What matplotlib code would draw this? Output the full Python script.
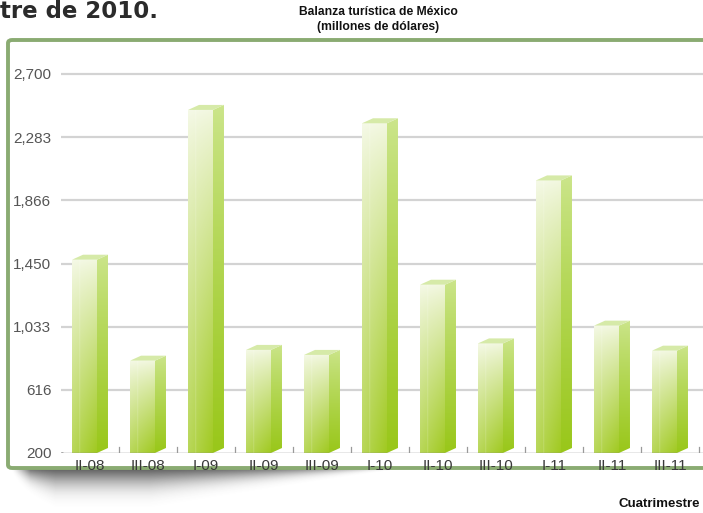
import numpy as np
import matplotlib
matplotlib.use("Agg")
import matplotlib.pyplot as plt
from matplotlib.patches import Polygon, FancyBboxPatch

# Balanza turistica por cuatrimestre (millones de dolares)
periods = ["II-08", "III-08", "I-09", "II-09", "III-09", "I-10",
           "II-10", "III-10", "I-11", "II-11", "III-11"]
balance = [1475, 809, 2463, 880, 847, 2375, 1310, 923, 1998, 1040, 875]
y_ticks = [200, 616, 1033, 1450, 1866, 2283, 2700]
y_labels = ["200", "616", "1,033", "1,450", "1,866", "2,283", "2,700"]

W, H = 703, 513
fig = plt.figure(figsize=(W / 100, H / 100), dpi=100)
fig.patch.set_facecolor("white")
plt.rcParams["font.family"] = ["Liberation Sans", "DejaVu Sans"]


def px(x0, y0, x1, y1):
    # pixel box (top-left origin) -> figure fraction rect
    return [x0 / W, 1 - y1 / H, (x1 - x0) / W, (y1 - y0) / H]


# soft shadow under the frame
sh = fig.add_axes(px(10, 464, 450, 513), zorder=-3)
sh.axis("off")
xs = np.linspace(0, 440, 440)
ys = np.linspace(0, 49, 98)
X, Y = np.meshgrid(xs, ys)
thick = np.where(X < 140, 40.0, 40 * np.clip(1 - (X - 140) / 290, 0, 1) ** 1.1)
thick = np.where(X < 45, 40 * np.clip(X / 45, 0, 1) ** 0.5, thick)
r = Y / np.maximum(thick, 1e-3)
a = np.exp(-2.2 * r ** 2) * np.clip(1.15 - r, 0, 1) * 0.85
a *= np.clip(X / 20, 0, 1)
shadow = np.zeros((len(ys), len(xs), 4))
shadow[..., :3] = 0.27
shadow[..., 3] = np.clip(a, 0, 1)
sh.imshow(shadow, extent=[0, 440, 49, 0], aspect="auto")

# green frame around the chart
frame = FancyBboxPatch((8 / W, 1 - 468 / H), 760 / W, 428 / H,
                       boxstyle="round,pad=0,rounding_size=0.006",
                       transform=fig.transFigure, facecolor="white",
                       edgecolor="#8aab72", linewidth=2.8, zorder=-1)
fig.add_artist(frame)

ax = fig.add_axes(px(61, 60, 757, 453))
ax.patch.set_visible(False)
n = len(periods)
ymin, ymax = 200, 2700 + 14 * 2500 / 379

# gridlines and baseline
for t in y_ticks[1:]:
    ax.axhline(t, color="#d3d3d3", lw=1.6, zorder=1)
ax.axhline(200, color="#8c8c8c", lw=1.0, zorder=4)
for b in np.arange(0.5, n + 0.5, 1):
    ax.plot([b, b], [200, 200 + 6 * 6.6], color="#9a9a9a", lw=0.9, zorder=4)
ax.plot([-0.5, -0.47], [200 - 2, 200], color="#8c8c8c", lw=1, zorder=4)

front_l, front_r, depth_x = -0.31, 0.12, 0.19
depth_y = 5 * 2500 / 379

top_c = np.array([0.95, 0.97, 0.88])
bot_c = np.array([0.63, 0.79, 0.13])


def face_image(c_top, c_bot, light_left=0.0, ny=200, nx=40):
    t = np.linspace(0, 1, ny)[:, None] ** 0.85
    img = c_top[None, None, :] * (1 - t[..., None]) + c_bot[None, None, :] * t[..., None]
    img = np.repeat(img, nx, axis=1)
    if light_left:
        h = np.linspace(1, 0, nx)[None, :, None]
        img = img + (1 - img) * light_left * h
        # faint vertical highlight line
        a0, a1 = int(nx * 0.3), int(nx * 0.33)
        img[:, a0:a1] += (1 - img[:, a0:a1]) * 0.25
    return np.clip(img, 0, 1)


for i, v in enumerate(balance):
    x0, x1 = i + front_l, i + front_r
    x2 = x1 + depth_x
    # front face
    poly = Polygon([(x0, ymin), (x1, ymin), (x1, v), (x0, v)], closed=True,
                   facecolor="none", edgecolor="none")
    ax.add_patch(poly)
    im = ax.imshow(face_image(top_c, bot_c, light_left=0.25),
                   extent=[x0, x1, ymin, v], origin="upper",
                   aspect="auto", zorder=2)
    im.set_clip_path(poly)
    # side face
    side = Polygon([(x1, ymin), (x2, ymin + depth_y), (x2, v + depth_y), (x1, v)],
                   closed=True, facecolor="none", edgecolor="none")
    ax.add_patch(side)
    im2 = ax.imshow(face_image(np.array([0.80, 0.90, 0.55]),
                               np.array([0.60, 0.78, 0.10])),
                    extent=[x1, x2, ymin, v + depth_y], origin="upper",
                    aspect="auto", zorder=2)
    im2.set_clip_path(side)
    # top face
    ax.add_patch(Polygon([(x0, v), (x1, v), (x2, v + depth_y),
                          (x0 + depth_x, v + depth_y)], closed=True,
                         facecolor="#d6eaa8", edgecolor="none", zorder=3))

ax.set_xlim(-0.5, n + 0.5)
ax.set_ylim(ymin, ymax)
for s in ax.spines.values():
    s.set_visible(False)
ax.set_yticks(y_ticks)
ax.set_yticklabels(y_labels, fontsize=11, color="#555555")
ax.set_xticks(range(n))
ax.set_xticklabels(periods, fontsize=11, color="#3a3a3a")
ax.tick_params(axis="both", length=0)
ax.tick_params(axis="y", pad=7)
ax.tick_params(axis="x", pad=4)

# titles and labels
fig.text(378 / W, 1 - 12 / H, "Balanza turística de México", ha="center",
         va="center", fontsize=8.7, fontweight="bold", color="#111111")
fig.text(378 / W, 1 - 27 / H, "(millones de dólares)", ha="center",
         va="center", fontsize=8.7, fontweight="bold", color="#111111")
fig.text(0 / W, 1 - 12 / H, "tre de 2010.", ha="left", va="center",
         fontsize=16.5, fontweight="bold", color="#2b2b2b",
         family=["DejaVu Sans"])
fig.text(700 / W, 1 - 504 / H, "Cuatrimestre", ha="right", va="center",
         fontsize=9.5, fontweight="bold", color="#111111")

fig.savefig("out.png", dpi=100, facecolor="white")
